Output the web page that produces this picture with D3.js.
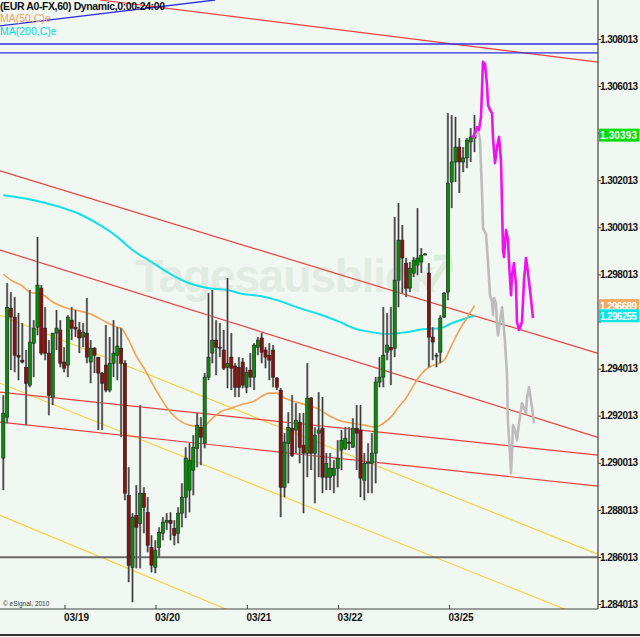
<!DOCTYPE html>
<html><head><meta charset="utf-8">
<script src="https://cdn.jsdelivr.net/npm/d3@7"></script>
<style>body{margin:0;background:#f1f8f1}svg{display:block}</style>
</head><body><svg id="c" width="640" height="637"></svg>
<script>
// ---------- DATA (hourly EUR/USD candles, index 0..124) ----------
const opens=[1.29021,1.29195,1.29658,1.29620,1.29458,1.29437,1.29407,1.29331,1.29509,1.29577,1.29743,1.29573,1.29467,1.29280,1.29552,1.29565,1.29429,1.29416,1.29607,1.29577,1.29565,1.29535,1.29552,1.29429,1.29488,1.29450,1.29382,1.29416,1.29310,1.29424,1.29458,1.29488,1.29424,1.28863,1.28557,1.28778,1.28744,1.28872,1.28791,1.28642,1.28557,1.28642,1.28702,1.28749,1.28757,1.28723,1.28702,1.28787,1.28855,1.28885,1.28970,1.29063,1.29152,1.29084,1.29365,1.29467,1.29522,1.29492,1.29480,1.29407,1.29450,1.29412,1.29407,1.29429,1.29322,1.29395,1.29365,1.29492,1.29531,1.29480,1.29458,1.29480,1.29361,1.29310,1.28897,1.29084,1.29148,1.29140,1.29174,1.29076,1.29042,1.29276,1.29042,1.29127,1.29148,1.28940,1.28940,1.28948,1.28978,1.29055,1.29063,1.29089,1.29067,1.29148,1.29140,1.28927,1.28999,1.28999,1.29042,1.29344,1.29365,1.29471,1.29492,1.29488,1.29777,1.29947,1.29849,1.29743,1.29807,1.29841,1.29854,1.29888,1.29807,1.29535,1.29458,1.29471,1.29620,1.29726,1.30194,1.30279,1.30342,1.30279,1.30296,1.30364,1.30380];
const highs=[1.29288,1.29764,1.29726,1.29705,1.29637,1.29594,1.29480,1.29735,1.29607,1.29960,1.29756,1.29662,1.29522,1.29552,1.29650,1.29607,1.29492,1.29628,1.29662,1.29650,1.29599,1.29594,1.29701,1.29522,1.29492,1.29450,1.29386,1.29586,1.29535,1.29607,1.29577,1.29573,1.29437,1.28982,1.28787,1.28906,1.29246,1.28897,1.28855,1.28693,1.28672,1.28727,1.28770,1.28787,1.28791,1.28757,1.28812,1.28914,1.29067,1.29084,1.29118,1.29212,1.29195,1.29382,1.29722,1.29735,1.29607,1.29594,1.29565,1.29786,1.29552,1.29424,1.29450,1.29446,1.29407,1.29467,1.29509,1.29535,1.29552,1.29492,1.29509,1.29501,1.29365,1.29318,1.29127,1.29216,1.29288,1.29254,1.29212,1.29212,1.29424,1.29280,1.29152,1.29301,1.29280,1.29042,1.29042,1.29012,1.29097,1.29140,1.29152,1.29152,1.29190,1.29246,1.29246,1.29042,1.29084,1.29127,1.29365,1.29450,1.29662,1.29637,1.29662,1.30045,1.30104,1.30011,1.29871,1.29854,1.29875,1.30083,1.29913,1.29892,1.29849,1.29577,1.29467,1.29628,1.29726,1.30487,1.30478,1.30470,1.30380,1.30342,1.30380,1.30423,1.30478];
const lows=[1.28885,1.29169,1.29395,1.29386,1.29352,1.29424,1.29161,1.29322,1.29365,1.29543,1.29458,1.29437,1.29203,1.29246,1.29480,1.29407,1.29386,1.29365,1.29522,1.29535,1.29467,1.29492,1.29424,1.29339,1.29382,1.29140,1.29140,1.29301,1.29301,1.29365,1.29352,1.29110,1.28842,1.28494,1.28409,1.28553,1.28553,1.28702,1.28621,1.28536,1.28532,1.28600,1.28672,1.28715,1.28672,1.28651,1.28659,1.28727,1.28766,1.28791,1.28863,1.28982,1.28991,1.29063,1.29352,1.29424,1.29373,1.29450,1.29395,1.29318,1.29310,1.29280,1.29280,1.29318,1.29297,1.29322,1.29310,1.29458,1.29424,1.29403,1.29352,1.29322,1.29310,1.28770,1.28855,1.28914,1.29025,1.29042,1.28999,1.28787,1.28940,1.28970,1.28829,1.28940,1.28872,1.28885,1.28885,1.28872,1.28897,1.28970,1.29055,1.29055,1.29067,1.28970,1.28855,1.28842,1.28872,1.28872,1.28914,1.29322,1.29322,1.29437,1.29331,1.29450,1.29662,1.29722,1.29705,1.29726,1.29790,1.29798,1.29807,1.29883,1.29407,1.29437,1.29407,1.29424,1.29616,1.29692,1.30083,1.30194,1.30147,1.30236,1.30253,1.30279,1.30321];
const closes=[1.29212,1.29662,1.29620,1.29458,1.29450,1.29429,1.29339,1.29514,1.29573,1.29756,1.29467,1.29467,1.29288,1.29552,1.29573,1.29424,1.29403,1.29620,1.29573,1.29569,1.29531,1.29556,1.29450,1.29488,1.29458,1.29382,1.29339,1.29310,1.29424,1.29467,1.29497,1.29424,1.28872,1.28566,1.28770,1.28727,1.28872,1.28812,1.28651,1.28566,1.28630,1.28706,1.28749,1.28757,1.28744,1.28693,1.28787,1.28855,1.29021,1.29012,1.29067,1.29161,1.29110,1.29365,1.29450,1.29522,1.29492,1.29488,1.29403,1.29424,1.29403,1.29322,1.29322,1.29331,1.29386,1.29365,1.29501,1.29522,1.29471,1.29450,1.29437,1.29365,1.29322,1.28897,1.29089,1.29152,1.29033,1.29182,1.29067,1.29042,1.29276,1.29042,1.29118,1.29140,1.28940,1.28999,1.28978,1.28978,1.29021,1.29097,1.29106,1.29084,1.29148,1.29127,1.28936,1.28999,1.29004,1.29042,1.29344,1.29365,1.29458,1.29501,1.29480,1.29777,1.29947,1.29871,1.29743,1.29828,1.29862,1.29871,1.29883,1.29888,1.29535,1.29514,1.29458,1.29616,1.29722,1.30189,1.30279,1.30342,1.30279,1.30296,1.30372,1.30385,1.30393];

// moving averages sampled at candle indices
const ma50Idx=[0,2,5,7,10,13,16,19,23,27,30,31,33,35,37,39,41,43,45,47,49,51,53,55,57,60,63,66,68,70,72,74,77,80,83,86,89,92,95,98,100,102,104,106,108,110,112,114,116,118,120,122,124];
const ma50Val=[1.29803,1.29777,1.29752,1.29726,1.29718,1.29684,1.29662,1.29650,1.29633,1.29599,1.29577,1.29573,1.29522,1.29454,1.29403,1.29344,1.29288,1.29237,1.29199,1.29174,1.29161,1.29157,1.29161,1.29190,1.29216,1.29233,1.29250,1.29263,1.29284,1.29297,1.29297,1.29276,1.29259,1.29246,1.29229,1.29199,1.29178,1.29169,1.29161,1.29152,1.29169,1.29195,1.29237,1.29276,1.29331,1.29378,1.29407,1.29420,1.29437,1.29501,1.29565,1.29616,1.29669];
const ma200Idx=[0,5,10,15,20,25,29,31,34,39,44,49,54,59,63,68,72,78,83,88,93,97,101,106,111,115,118,121,124];
const ma200Val=[1.30138,1.30126,1.30109,1.30087,1.30058,1.30015,1.29973,1.29947,1.29905,1.29854,1.29803,1.29764,1.29743,1.29735,1.29718,1.29709,1.29692,1.29658,1.29633,1.29603,1.29569,1.29556,1.29548,1.29556,1.29569,1.29573,1.29594,1.29611,1.29626];

// forecast paths (hour index, price)
const fcMagIdx=[123.6,124.66,125.18,125.71,125.97,126.24,126.76,127.29,127.55,128.08,128.61,128.87,129.39,129.92,130.45,130.97,131.24,131.50,131.76,132.29,132.82,133.08,133.61,133.87,134.39,134.92,135.18,135.71,136.50,137.03,137.55,137.82,138.61,139.39];
const fcMagVal=[1.30380,1.30427,1.30415,1.30470,1.30585,1.30704,1.30695,1.30606,1.30521,1.30500,1.30487,1.30380,1.30274,1.30342,1.30385,1.30287,1.30096,1.29905,1.29875,1.29990,1.29947,1.29854,1.29713,1.29798,1.29849,1.29756,1.29599,1.29565,1.29599,1.29777,1.29871,1.29841,1.29735,1.29616];
const fcGrayIdx=[123.6,124.92,125.45,125.71,125.97,126.24,127.03,127.55,128.08,128.61,128.87,129.13,129.66,129.92,130.18,130.71,131.24,131.50,132.03,132.55,132.82,133.34,133.61,133.87,134.13,134.66,135.18,135.71,136.50,137.03,137.55,137.82,138.34,139.13,139.66];
const fcGrayVal=[1.30380,1.30415,1.30372,1.30257,1.30160,1.29998,1.29973,1.29854,1.29713,1.29684,1.29628,1.29701,1.29679,1.29586,1.29543,1.29599,1.29662,1.29616,1.29514,1.29373,1.29169,1.29042,1.28957,1.29042,1.29161,1.29140,1.29097,1.29169,1.29254,1.29233,1.29212,1.29280,1.29322,1.29237,1.29169];

// drawn trend lines: [idx1, price1, idx2, price2]
const redLines=[[25.45,1.30967,156.5,1.30703],[-0.87,1.30241,156.5,1.29466],[-0.87,1.29905,156.5,1.29109],[-0.87,1.29301,156.5,1.29034],[-0.87,1.29174,156.5,1.28902]];
const yellowLines=[[-0.87,1.29628,156.5,1.28612],[-0.87,1.29339,156.5,1.28323],[-0.87,1.28778,156.5,1.27724]];
const blueLines=[[-0.87,1.30857,55.7,1.30967],[-0.87,1.30780,156.5,1.30780],[-0.87,1.30742,156.5,1.30742]];
const grayLevels=[1.28600];

const priceTicks=[1.284013,1.286013,1.288013,1.290013,1.292013,1.294013,1.296013,1.298013,1.300013,1.302013,1.304013,1.306013,1.308013];
const hiddenTickLabels=[1.296013,1.304013]; // covered by the value boxes in the original
const dateLabels=["03/19","03/20","03/21","03/22","03/25"];
const dateIdx=[16.1,40.05,64.1,88.1,117.3];
const lastLabels=[{v:1.30393,t:"1.30393",bg:"#00e000"},{v:1.296689,t:"1.296689",bg:"#f4a860"},{v:1.296255,t:"1.296255",bg:"#00e6e6"}];

// ---------- DRAW ----------
const svg=d3.select("#c");
const PR=598, PB=609;
const x=d3.scaleLinear().domain([0,124]).range([3.3,474.5]);
const y=d3.scaleLinear().domain([1.284013,1.308013]).range([604,39]);

svg.append("rect").attr("width",640).attr("height",637).attr("fill","#f1f8f1");
svg.append("defs").append("clipPath").attr("id","pc").append("rect").attr("x",0).attr("y",0).attr("width",PR).attr("height",PB);
const g=svg.append("g").attr("clip-path","url(#pc)");

// watermark
g.append("text").attr("x",135).attr("y",292).attr("font-family","Liberation Sans, Arial, sans-serif")
 .attr("font-weight","bold").attr("font-size",46).attr("fill","#e2ebe2").attr("textLength",300).text("Tagesausblick");
g.append("path").attr("d","M428,290 L446,262 M434,258 L449,257 L450,272").attr("stroke","#dcecdc").attr("stroke-width",6).attr("fill","none");

const line2=(arr,col,w)=>g.selectAll(null).data(arr).enter().append("line")
  .attr("x1",d=>x(d[0])).attr("y1",d=>y(d[1])).attr("x2",d=>x(d[2])).attr("y2",d=>y(d[3]))
  .attr("stroke",col).attr("stroke-width",w);
line2(yellowLines,"#f2d23a",1.1);
line2(redLines,"#ec4040",1.2);
line2(blueLines,"#3030e0",1.3);
g.selectAll(null).data(grayLevels).enter().append("line").attr("x1",0).attr("x2",PR)
  .attr("y1",d=>y(d)).attr("y2",d=>y(d)).attr("stroke","#6a6a6a").attr("stroke-width",2);

// moving averages
const lg=d3.line().curve(d3.curveMonotoneX);
g.append("path").attr("d",lg(ma200Idx.map((d,i)=>[x(d),y(ma200Val[i])]))).attr("fill","none").attr("stroke","#10e0e8").attr("stroke-width",2);
g.append("path").attr("d",lg(ma50Idx.map((d,i)=>[x(d),y(ma50Val[i])]))).attr("fill","none").attr("stroke","#f4a050").attr("stroke-width",1.6);

// candles
const idx=d3.range(opens.length);
const cg=g.append("g");
cg.selectAll(null).data(idx).enter().append("line").attr("x1",i=>x(i)).attr("x2",i=>x(i))
  .attr("y1",i=>y(highs[i])).attr("y2",i=>y(lows[i])).attr("stroke","#8e8e8e").attr("stroke-width",2.3);
cg.selectAll(null).data(idx).enter().append("line").attr("x1",i=>x(i)).attr("x2",i=>x(i))
  .attr("y1",i=>y(highs[i])).attr("y2",i=>y(lows[i])).attr("stroke","#333").attr("stroke-width",0.9);
cg.selectAll(null).data(idx).enter().append("rect")
  .attr("x",i=>x(i)-1.6).attr("width",3.2)
  .attr("y",i=>y(Math.max(opens[i],closes[i])))
  .attr("height",i=>Math.max(1,Math.abs(y(opens[i])-y(closes[i]))))
  .attr("fill",i=>closes[i]>=opens[i]?"#0c8a0c":"#8a1010").attr("stroke","#222").attr("stroke-width",0.6);

// forecasts
const ll=d3.line();
g.append("path").attr("d",ll(fcGrayIdx.map((d,i)=>[x(d),y(fcGrayVal[i])]))).attr("fill","none").attr("stroke","#bcbcbc").attr("stroke-width",2.6).attr("stroke-linejoin","round");
g.append("path").attr("d",ll(fcMagIdx.map((d,i)=>[x(d),y(fcMagVal[i])]))).attr("fill","none").attr("stroke","#f010f0").attr("stroke-width",2.6).attr("stroke-linejoin","round");

// legend
const F="Liberation Sans, Arial, sans-serif";
svg.append("text").attr("x",0).attr("y",10).attr("font-family",F).attr("font-weight","bold").attr("font-size",10.5).attr("fill","#111").attr("textLength",165).text("(EUR A0-FX,60) Dynamic,0:00-24:00");
svg.append("text").attr("x",0).attr("y",22).attr("font-family",F).attr("font-size",10.5).attr("fill","#f0a060").text("MA(50,C)e");
svg.append("text").attr("x",0).attr("y",35).attr("font-family",F).attr("font-size",10.5).attr("fill","#00d8e0").text("MA(200,C)e");
svg.append("text").attr("x",3).attr("y",606).attr("font-family",F).attr("font-size",6.5).attr("fill","#333").text("© eSignal, 2010");

// axes
const ya=d3.axisRight(y).tickValues(priceTicks)
  .tickFormat(d=>hiddenTickLabels.includes(d)?"":d3.format(".6f")(d)).tickSize(3);
const yg=svg.append("g").attr("transform",`translate(${PR},0)`).call(ya);
yg.select(".domain").attr("d",`M0,0V${PB}`).attr("stroke","#444").attr("stroke-width",1.2);
yg.selectAll("text").attr("x",2).attr("font-family",F).attr("font-weight","bold").attr("font-size",10).attr("fill","#111").attr("textLength",d=>hiddenTickLabels.includes(d)?null:38);
yg.selectAll(".tick line").attr("stroke","#444");

const xa=d3.axisBottom(x).tickValues(dateIdx).tickFormat((d,i)=>dateLabels[i]).tickSize(-4);
const xg=svg.append("g").attr("transform",`translate(0,${PB})`).call(xa);
xg.select(".domain").attr("d",`M0,0H${PR}`).attr("stroke","#444").attr("stroke-width",1.2);
xg.selectAll("text").attr("text-anchor","start").attr("dx",-1).attr("y",5).attr("font-family",F).attr("font-weight","bold").attr("font-size",10).attr("fill","#111");
xg.selectAll(".tick line").attr("stroke","#444");

// last value labels
lastLabels.forEach(L=>{
  const yy=y(L.v);
  svg.append("rect").attr("x",PR+1).attr("y",yy-6.5).attr("width",40).attr("height",13).attr("fill",L.bg);
  svg.append("text").attr("x",PR+2).attr("y",yy+4).attr("font-family",F).attr("font-weight","bold").attr("font-size",10).attr("fill","#fff").attr("textLength",37).text(L.t);
});
// bottom frame
svg.append("line").attr("x1",0).attr("x2",640).attr("y1",635).attr("y2",635).attr("stroke","#333").attr("stroke-width",2);
</script></body></html>
